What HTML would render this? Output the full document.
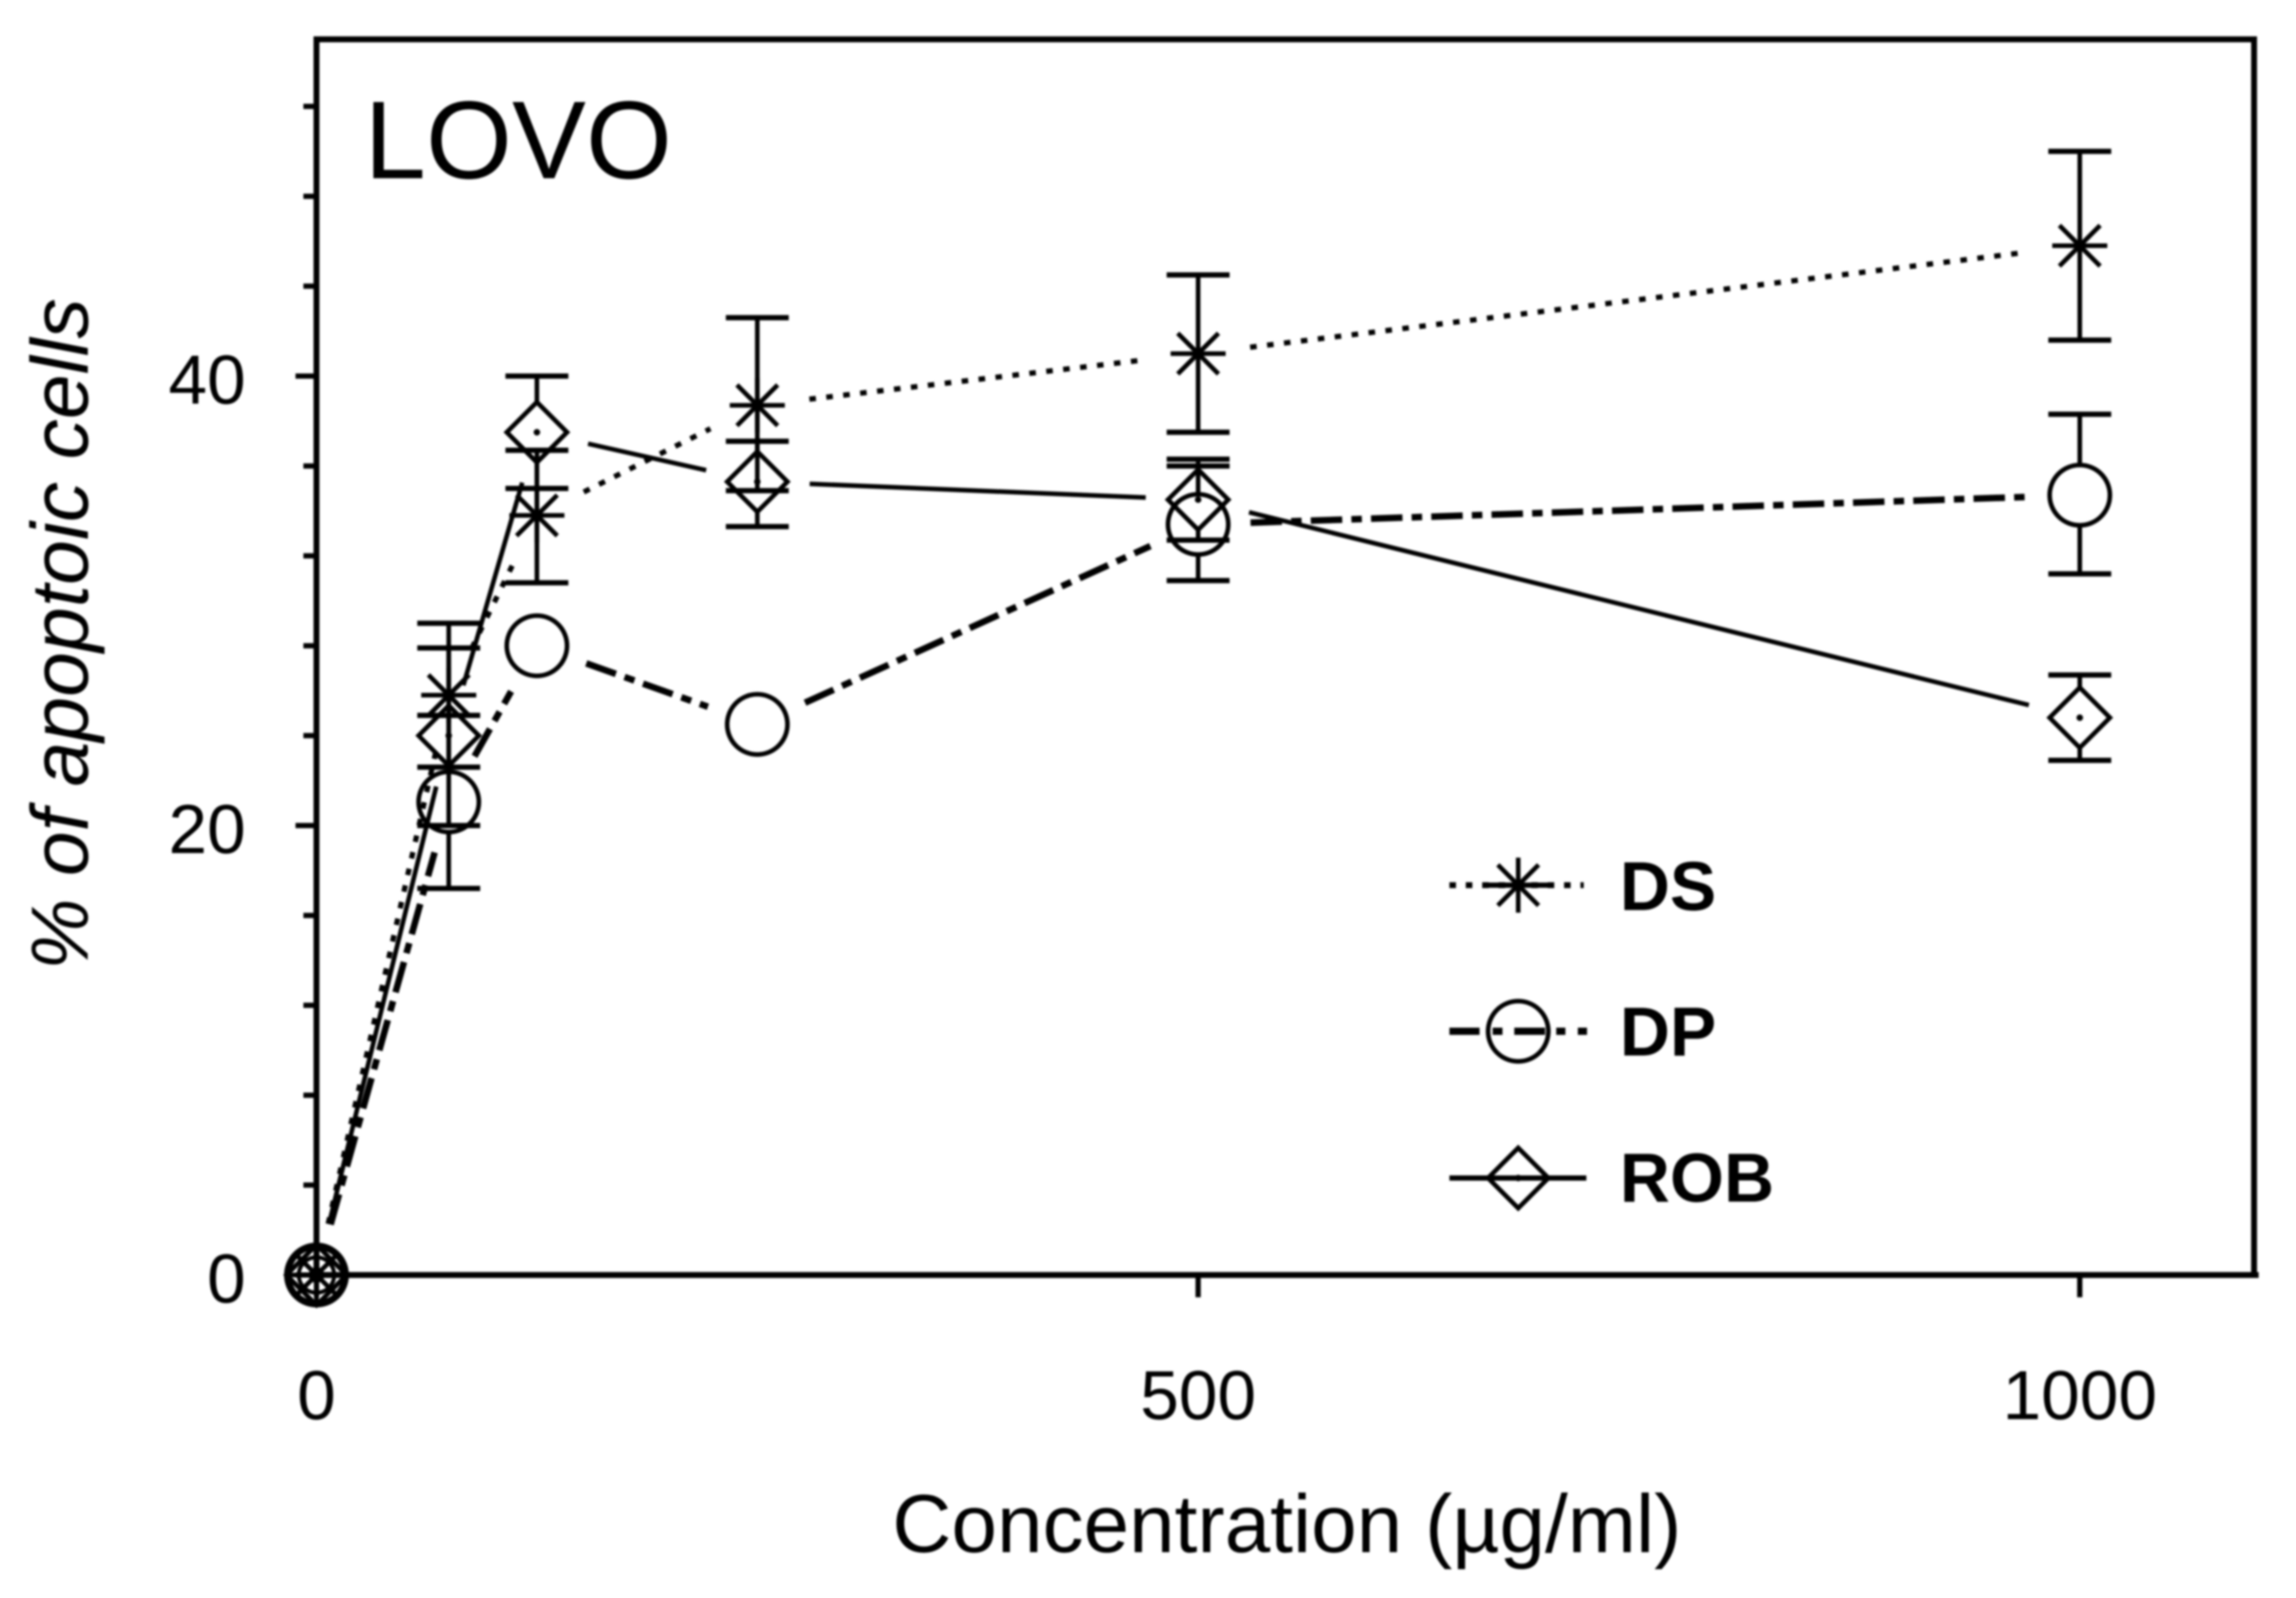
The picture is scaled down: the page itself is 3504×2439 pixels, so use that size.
<!DOCTYPE html>
<html lang="en">
<head>
<meta charset="utf-8">
<title>LOVO apoptotic cells chart</title>
<style>
html,body{margin:0;padding:0;background:#fff;width:3504px;height:2439px;overflow:hidden}
svg{display:block;filter:blur(1.5px)}
text{font-family:"Liberation Sans",Arial,sans-serif;fill:#000}
</style>
</head>
<body>
<svg id="chart" xmlns="http://www.w3.org/2000/svg" width="3504" height="2439" viewBox="0 0 3504 2439">
  <rect x="0" y="0" width="3504" height="2439" fill="#fff"/>
  <g id="axes"></g>
  <g id="series"></g>
  <text x="556" y="272" font-size="169">LOVO</text>
  <text x="1964" y="2369" font-size="125" text-anchor="middle">Concentration (µg/ml)</text>
  <text transform="translate(134,968) rotate(-90)" font-size="123" font-style="italic" text-anchor="middle">% of apoptoic cells</text>
  <g id="legend">
    <g>
      <line x1="2212" y1="1351" x2="2417" y2="1351" stroke="#000" stroke-width="9" stroke-dasharray="10 15"/>
      <line x1="2262" y1="1351" x2="2367" y2="1351" stroke="#000" stroke-width="8"/>
      <g id="legend-marker-ds"></g>
      <text x="2472" y="1389" font-size="106" font-weight="bold">DS</text>
    </g>
    <g>
      <line x1="2212" y1="1574" x2="2258" y2="1574" stroke="#000" stroke-width="11"/>
      <line x1="2278" y1="1574" x2="2293" y2="1574" stroke="#000" stroke-width="11"/>
      <line x1="2311" y1="1574" x2="2358" y2="1574" stroke="#000" stroke-width="11"/>
      <line x1="2375" y1="1574" x2="2389" y2="1574" stroke="#000" stroke-width="11"/>
      <line x1="2408" y1="1574" x2="2422" y2="1574" stroke="#000" stroke-width="11"/>
      <g id="legend-marker-dp"></g>
      <text x="2472" y="1611" font-size="106" font-weight="bold">DP</text>
    </g>
    <g>
      <line x1="2212" y1="1798" x2="2421" y2="1798" stroke="#000" stroke-width="8"/>
      <g id="legend-marker-rob"></g>
      <text x="2472" y="1834" font-size="106" font-weight="bold">ROB</text>
    </g>
  </g>
</svg>
<script>
// ---- chart data ----
const concentrations = [0, 75, 125, 250, 500, 1000];
const dsMean  = [0, 25.8, 33.8, 38.7, 41.0, 45.8];
const dsUpper = [0, 29.0, 36.7, 42.6, 44.5, 50.0];
const dsLower = [0, 22.6, 30.8, 34.9, 37.5, 41.6];
const dpMean  = [0, 21.05, 28.0, 24.5, 33.4, 34.7];
const dpUpper = [0, 24.9, 28.0, 24.5, 36.0, 38.3];
const dpLower = [0, 17.2, 28.0, 24.5, 30.9, 31.2];
const robMean  = [0, 24.0, 37.5, 35.3, 34.5, 24.8];
const robUpper = [0, 27.9, 40.0, 37.1, 36.3, 26.7];
const robLower = [0, 20.0, 35.0, 33.3, 32.7, 22.9];
const xTickValues = [0, 500, 1000];
const xTickLabels = ["0", "500", "1000"];
const yMajorValues = [0, 20, 40];
const yMajorLabels = ["0", "20", "40"];
const yMinorValues = [4, 8, 12, 16, 24, 28, 32, 36, 44, 48, 52];

// ---- axis functions ----
const LEFT = 483, BOTTOM = 1946, TOP = 60, RIGHT = 3440, AXIS_END = 3447;
const PX_PER_X = 2.691, PX_PER_Y = 34.3;
const MARKER_R = 46, STAR_R = 42, CAP_HALF = 48, GAP = 80;
function xPos(v) { return LEFT + v * PX_PER_X; }
function yPos(v) { return BOTTOM - v * PX_PER_Y; }

const NS = "http://www.w3.org/2000/svg";
function mk(parent, tag, props) {
  const el = document.createElementNS(NS, tag);
  for (const k in props) el.setAttribute(k, props[k]);
  parent.appendChild(el);
  return el;
}
function stroke(parent, x1, y1, x2, y2, w, dash) {
  const props = { x1: x1, y1: y1, x2: x2, y2: y2, stroke: "#000", "stroke-width": w };
  if (dash) props["stroke-dasharray"] = dash;
  return mk(parent, "line", props);
}

// ---- axes ----
const axes = document.getElementById("axes");
const frame = mk(axes, "path", { d: `M${LEFT} ${BOTTOM}V${TOP}H${RIGHT}V${BOTTOM}`, fill: "none", stroke: "#000", "stroke-width": 9 });


const xAxisLine = stroke(axes, LEFT, BOTTOM, AXIS_END, BOTTOM, 9);



xTickValues.forEach((v, i) => {
  const t = stroke(axes, xPos(v), BOTTOM, xPos(v), BOTTOM + 34, 8);
  
  
  const lab = mk(axes, "text", { x: xPos(v), y: 2166, "font-size": 106, "text-anchor": "middle" });
  lab.textContent = xTickLabels[i];
  
  
});
yMajorValues.forEach((v, i) => {
  const t = stroke(axes, LEFT - 32, yPos(v), LEFT, yPos(v), 8);
  
  
  const lab = mk(axes, "text", { x: 375, y: yPos(v) + 42, "font-size": 106, "text-anchor": "end" });
  lab.textContent = yMajorLabels[i];
  
  
});
yMinorValues.forEach((v) => {
  const t = stroke(axes, LEFT - 20, yPos(v), LEFT, yPos(v), 8);
  
  
});

// ---- markers ----
function drawMarker(parent, kind, cx, cy) {
  const g = mk(parent, "g", {});
  
  
  if (kind === "circle") {
    mk(g, "circle", { cx: cx, cy: cy, r: MARKER_R, fill: "none", stroke: "#000", "stroke-width": 7 });
  } else if (kind === "diamond") {
    mk(g, "path", { d: `M${cx} ${cy - MARKER_R}L${cx + MARKER_R} ${cy}L${cx} ${cy + MARKER_R}L${cx - MARKER_R} ${cy}Z`, fill: "none", stroke: "#000", "stroke-width": 7 });
    mk(g, "circle", { cx: cx, cy: cy, r: 5, fill: "#000" });
  } else {
    const d = STAR_R * 0.74;
    stroke(g, cx - STAR_R, cy, cx + STAR_R, cy, 7);
    stroke(g, cx, cy - STAR_R, cx, cy + STAR_R, 7);
    stroke(g, cx - d, cy - d, cx + d, cy + d, 7);
    stroke(g, cx - d, cy + d, cx + d, cy - d, 7);
    mk(g, "circle", { cx: cx, cy: cy, r: 9, fill: "#000" });
  }
}

// ---- series ----
function drawSeries(name, kind, means, uppers, lowers, lineWidth, dash) {
  const layer = document.getElementById("series");
  const g = mk(layer, "g", {});
  
  

  for (let i = 0; i < means.length - 1; i++) {
    const x1 = xPos(concentrations[i]), y1 = yPos(means[i]);
    const x2 = xPos(concentrations[i + 1]), y2 = yPos(means[i + 1]);
    const len = Math.hypot(x2 - x1, y2 - y1);
    const ux = (x2 - x1) / len, uy = (y2 - y1) / len;
    const seg = stroke(g, x1 + ux * GAP, y1 + uy * GAP, x2 - ux * GAP, y2 - uy * GAP, lineWidth, dash);
    
    
  }
  means.forEach((m, i) => {
    const cx = xPos(concentrations[i]), cy = yPos(m);
    const inner = kind === "star" ? 0 : MARKER_R;
    [uppers[i], lowers[i]].forEach((bound) => {
      const by = yPos(bound);
      const delta = by - cy;
      if (Math.abs(delta) > inner && delta !== 0) {
        const stem = stroke(g, cx, by, cx, cy + Math.sign(delta) * inner, 7);
        
        
        const cap = stroke(g, cx - CAP_HALF, by, cx + CAP_HALF, by, 8);
        
        
      }
    });
    drawMarker(g, kind, cx, cy);
  });
}
drawSeries("rob", "diamond", robMean, robUpper, robLower, 7, null);
drawSeries("dp", "circle", dpMean, dpUpper, dpLower, 10, "48 14 16 14");
drawSeries("ds", "star", dsMean, dsUpper, dsLower, 8, "10 16");

// ---- darkened pile-up at the origin (overlapping markers of all series) ----
const originLayer = document.getElementById("series");
const originRing = mk(originLayer, "circle", { cx: xPos(0), cy: yPos(0), r: 44, fill: "none", stroke: "#000", "stroke-width": 10 });


const originInner = mk(originLayer, "circle", { cx: xPos(0), cy: yPos(0), r: 27, fill: "none", stroke: "#000", "stroke-width": 6 });


const originCore = mk(originLayer, "circle", { cx: xPos(0), cy: yPos(0), r: 12, fill: "#000" });



// ---- legend markers ----
drawMarker(document.getElementById("legend-marker-ds"), "star", 2317, 1351);
drawMarker(document.getElementById("legend-marker-dp"), "circle", 2317, 1574);
drawMarker(document.getElementById("legend-marker-rob"), "diamond", 2317, 1798);
</script>
</body>
</html>
